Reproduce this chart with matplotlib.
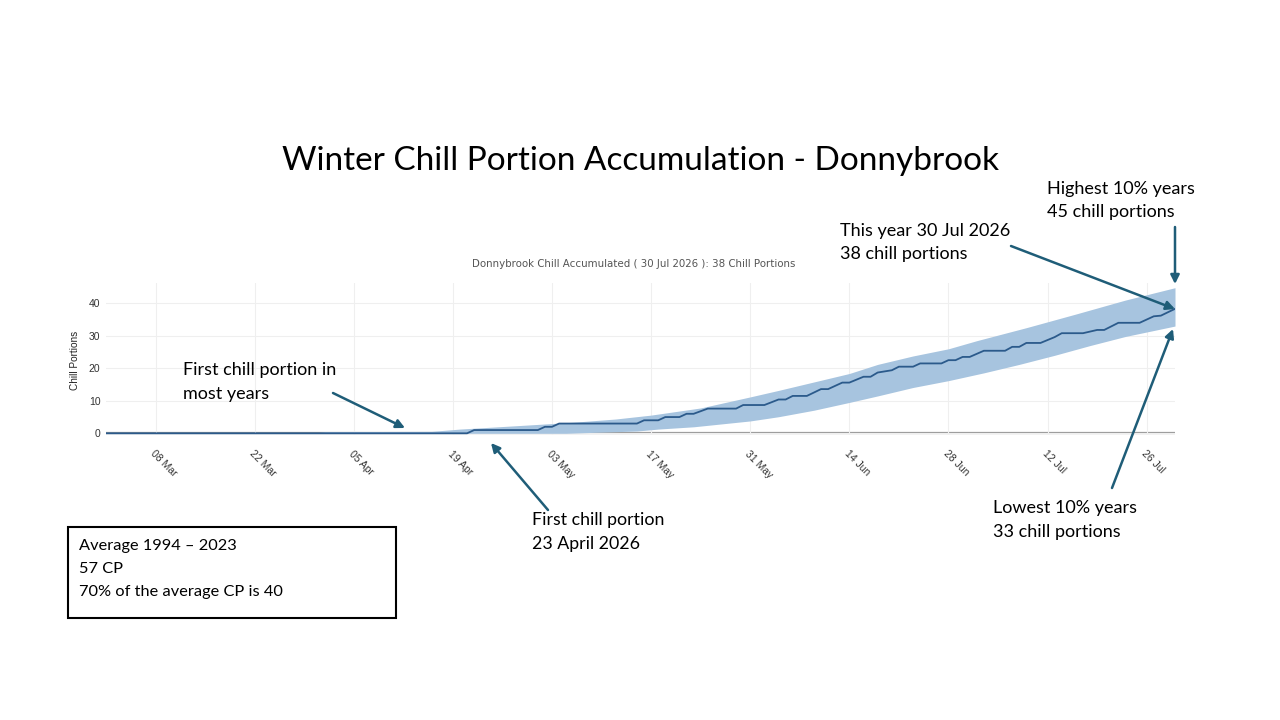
import matplotlib
matplotlib.use("Agg")
import matplotlib.pyplot as plt
import matplotlib.dates as mdates
import pandas as pd
from matplotlib.patches import Rectangle

# ---------------- data ----------------
line_dates = ["2026-03-01", "2026-04-21", "2026-04-22", "2026-05-01", "2026-05-02", "2026-05-03",
              "2026-05-04", "2026-05-15", "2026-05-16", "2026-05-18", "2026-05-19", "2026-05-21",
              "2026-05-22", "2026-05-23", "2026-05-25", "2026-05-29", "2026-05-30", "2026-06-02",
              "2026-06-04", "2026-06-05", "2026-06-06", "2026-06-08", "2026-06-10", "2026-06-11",
              "2026-06-13", "2026-06-14", "2026-06-16", "2026-06-17", "2026-06-18", "2026-06-20",
              "2026-06-21", "2026-06-23", "2026-06-24", "2026-06-27", "2026-06-28", "2026-06-29",
              "2026-06-30", "2026-07-01", "2026-07-03", "2026-07-06", "2026-07-07", "2026-07-08",
              "2026-07-09", "2026-07-11", "2026-07-13", "2026-07-14", "2026-07-17", "2026-07-19",
              "2026-07-20", "2026-07-22", "2026-07-25", "2026-07-27", "2026-07-28", "2026-07-30"]
line_values = [0, 0, 1, 1, 2, 2,
               3, 3, 4, 4, 5, 5,
               6, 6, 7.6, 7.6, 8.7, 8.7,
               10.4, 10.4, 11.5, 11.5, 13.6, 13.6,
               15.6, 15.6, 17.4, 17.4, 18.7, 19.4,
               20.5, 20.5, 21.5, 21.5, 22.5, 22.5,
               23.5, 23.5, 25.4, 25.4, 26.6, 26.6,
               27.8, 27.8, 29.6, 30.8, 30.8, 31.8,
               31.8, 34.0, 34.0, 36.0, 36.2, 38.3]

upper_dates = ["2026-03-01", "2026-03-30", "2026-04-01", "2026-04-16", "2026-04-20", "2026-04-30",
               "2026-05-06", "2026-05-12", "2026-05-17", "2026-05-24", "2026-05-31", "2026-06-04",
               "2026-06-09", "2026-06-14", "2026-06-18", "2026-06-23", "2026-06-28", "2026-07-02",
               "2026-07-09", "2026-07-16", "2026-07-23", "2026-07-30"]
upper_values = [0, 0, 0.5, 0.6, 1.3, 2.6,
                3.4, 4.4, 5.6, 7.8, 11.2, 13.2,
                15.8, 18.4, 21.2, 23.8, 26.0, 28.5,
                32.5, 36.7, 41.0, 44.8]

lower_dates = ["2026-03-01", "2026-05-05", "2026-05-09", "2026-05-15", "2026-05-18", "2026-05-23",
               "2026-05-31", "2026-06-04", "2026-06-09", "2026-06-14", "2026-06-18", "2026-06-23",
               "2026-06-28", "2026-07-03", "2026-07-08", "2026-07-13", "2026-07-18", "2026-07-23",
               "2026-07-30"]
lower_values = [0, 0, 0.3, 0.7, 1.3, 2.0,
                3.8, 5.1, 7.1, 9.5, 11.5, 14.1,
                16.2, 18.6, 21.2, 24.0, 27.0, 29.8,
                33.0]

tick_dates = ["2026-03-08", "2026-03-22", "2026-04-05", "2026-04-19", "2026-05-03", "2026-05-17",
              "2026-05-31", "2026-06-14", "2026-06-28", "2026-07-12", "2026-07-26"]
y_ticks = [0, 10, 20, 30, 40]

title = "Winter Chill Portion Accumulation - Donnybrook"
subtitle = "Donnybrook Chill Accumulated ( 30 Jul 2026 ): 38 Chill Portions"
ylabel = "Chill Portions"

# ---------------- figure ----------------
W, H = 1280, 720
fig = plt.figure(figsize=(12.8, 7.2), dpi=100)
fig.patch.set_facecolor("white")

BAND = "#a7c4df"
LINE = "#2b5a8b"
ARROW = "#1f5d78"
ANN_FONT = ["Lato", "DejaVu Sans"]

ax_left, ax_right = 106, 1175
ymin, ymax = -0.4, 46.2
px_per_unit = 3.25
y0_px = 433.3
ax_bottom = y0_px - ymin * px_per_unit
ax_top = y0_px - ymax * px_per_unit
ax = fig.add_axes([ax_left / W, 1 - ax_bottom / H, (ax_right - ax_left) / W, (ax_bottom - ax_top) / H])

ud = pd.to_datetime(upper_dates)
ld = pd.to_datetime(lower_dates)
band_index = pd.DatetimeIndex(sorted(set(ud) | set(ld)))
up_s = pd.Series(upper_values, index=ud).reindex(band_index).interpolate(method="time")
lo_s = pd.Series(lower_values, index=ld).reindex(band_index).interpolate(method="time")

ax.fill_between(band_index, lo_s.values, up_s.values, color=BAND, linewidth=0, zorder=2)
ax.axhline(0, color="#9a9a9a", lw=1.6, zorder=1)
ax.plot(pd.to_datetime(line_dates), line_values, color=LINE, lw=1.3, zorder=3, solid_joinstyle="round")

ax.set_xlim(pd.Timestamp("2026-03-01"), pd.Timestamp("2026-07-30"))
ax.set_ylim(ymin, ymax)
ax.set_xticks(pd.to_datetime(tick_dates))
ax.xaxis.set_major_formatter(mdates.DateFormatter("%d %b"))
ax.set_yticks(y_ticks)
ax.grid(True, color="#efefef", lw=0.8, zorder=0)
for s in ax.spines.values():
    s.set_visible(False)
ax.tick_params(axis="both", length=0, labelsize=7.5, colors="#333333")
ax.tick_params(axis="x", pad=10)
ax.tick_params(axis="y", pad=4)
for lab in ax.get_xticklabels():
    lab.set_rotation(-45)
    lab.set_ha("left")
    lab.set_va("top")
    lab.set_rotation_mode("anchor")
    lab.set_family(["Liberation Sans", "DejaVu Sans"])
for lab in ax.get_yticklabels():
    lab.set_family(["Liberation Sans", "DejaVu Sans"])

# ---------------- overlay for texts / arrows (pixel coordinates) ----------------
ov = fig.add_axes([0, 0, 1, 1], facecolor="none")
ov.set_xlim(0, W)
ov.set_ylim(H, 0)
ov.axis("off")

ov.text(640, 161, title, ha="center", va="center", fontsize=24, family=ANN_FONT, color="black")
ov.text(634, 264, subtitle, ha="center", va="center", fontsize=7.4, family=["DejaVu Sans"], color="#555555")
ov.text(75, 360, ylabel, ha="center", va="center", rotation=90, fontsize=7.2,
        family=["Liberation Sans", "DejaVu Sans"], color="#222222")

def label(x, y_first, lines, size=13, gap=23.5):
    for i, t in enumerate(lines):
        ov.text(x, y_first + i * gap, t, ha="left", va="center", fontsize=size, family=ANN_FONT, color="black")

def arrow(x0, y0, x1, y1):
    ov.annotate("", xy=(x1, y1), xytext=(x0, y0),
                arrowprops=dict(arrowstyle="-|>", color=ARROW, lw=1.8, mutation_scale=13,
                                shrinkA=0, shrinkB=0))

label(183, 370, ["First chill portion in", "most years"])
arrow(333, 393, 405, 428)

label(532, 520, ["First chill portion", "23 April 2026"], size=12.8)
arrow(548, 510, 491, 443)

label(840, 231, ["This year 30 Jul 2026", "38 chill portions"])
arrow(1011, 246, 1175, 309)

label(1047, 189, ["Highest 10% years", "45 chill portions"])
arrow(1175, 227, 1175, 284)

label(993, 508, ["Lowest 10% years", "33 chill portions"])
arrow(1112, 488, 1173, 329)

ov.add_patch(Rectangle((68, 527), 328, 91, fill=False, edgecolor="black", lw=1.5))
label(79, 546, ["Average 1994 \u2013 2023", "57 CP", "70% of the average CP is 40"], size=11.8, gap=23)

fig.savefig("out.png", dpi=100, facecolor="white")
